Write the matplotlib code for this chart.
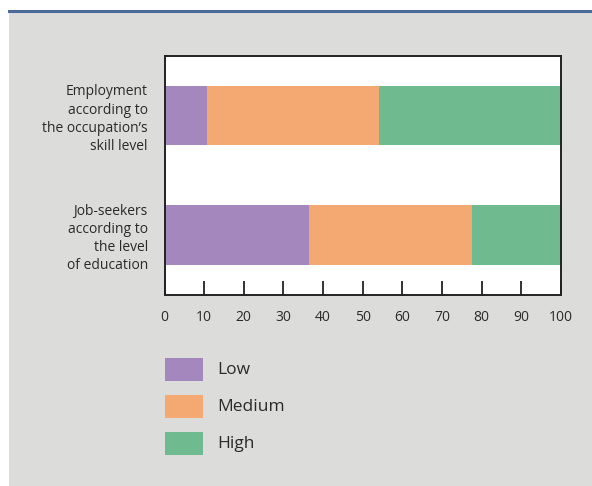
import matplotlib.pyplot as plt
from matplotlib.patches import Rectangle

# Data (shares in %)
categories = ['Employment\naccording to\nthe occupation\u2019s\nskill level',
              'Job-seekers\naccording to\nthe level\nof education']
levels = ['Low', 'Medium', 'High']
low = [10.7, 36.4]
medium = [43.4, 41.2]
high = [45.9, 22.4]
colors = ['#a487bd', '#f5a972', '#6fba8f']

plt.rcParams['font.family'] = ['Open Sans', 'DejaVu Sans']

fig = plt.figure(figsize=(5.92, 4.86), dpi=100)
fig.patch.set_facecolor('white')

# grey panel and blue top rule
fig.add_artist(Rectangle((9 / 592, 0), 1, 1 - 11 / 486, transform=fig.transFigure,
                         facecolor='#dcdcda', edgecolor='none', zorder=0))
fig.add_artist(plt.Line2D([9 / 592, 1], [1 - 11 / 486, 1 - 11 / 486], transform=fig.transFigure,
                          color='#4b6a9a', lw=2.2, zorder=1))

ax = fig.add_axes([164.5 / 592, 1 - 294.5 / 486, 396.5 / 592, 238.5 / 486])
ax.set_facecolor('white')

ypos = [1, 0]
left = [0, 0]
for vals, c in zip([low, medium, high], colors):
    ax.barh(ypos, vals, left=left, height=0.5, color=c, edgecolor='none')
    left = [l + v for l, v in zip(left, vals)]

ax.set_xlim(0, 100)
ax.set_ylim(-0.5, 1.5)
ax.set_xticks(range(0, 101, 10))
ax.set_yticks(ypos)
ax.set_yticklabels(categories, ha='right', multialignment='right', linespacing=1.3)
ax.tick_params(axis='y', length=0, pad=12, labelsize=10, labelcolor='#2a2a2a')
ax.tick_params(axis='x', direction='in', length=10, width=1.3, color='#222222',
               labelsize=10, labelcolor='#2a2a2a', pad=11)
for s in ax.spines.values():
    s.set_color('#222222')
    s.set_linewidth(1.4)

# legend drawn by hand
leg_y = [358, 395, 432]
for lab, c, y in zip(levels, colors, leg_y):
    fig.add_artist(Rectangle((165 / 592, 1 - (y + 23) / 486), 38 / 592, 23 / 486,
                             transform=fig.transFigure, facecolor=c, edgecolor='none'))
    fig.text(217 / 592, 1 - (y + 11.5) / 486, lab, fontsize=12.5, color='#2a2a2a',
             va='center', ha='left')

fig.savefig('out.png', dpi=100)
